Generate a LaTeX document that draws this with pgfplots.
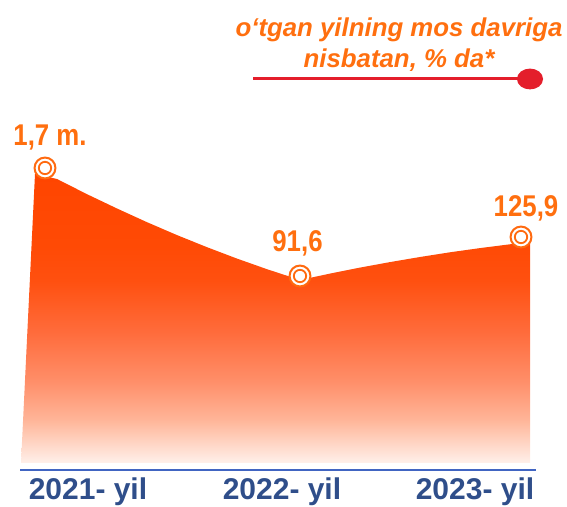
\documentclass[border=0pt]{standalone}
\usepackage{fontspec}
\setmainfont{Liberation Sans}
\newfontfamily\valfont[FakeStretch=0.86]{Liberation Sans}
\usepackage{pgfplots}
\pgfplotsset{compat=1.18}
\definecolor{labc}{HTML}{FF6F0F}
\definecolor{ringc}{HTML}{FF6A10}
\definecolor{legred}{HTML}{E41E2B}
\definecolor{axblue}{HTML}{4165C2}
\definecolor{yearc}{HTML}{2F4E8A}
\definecolor{g0}{HTML}{FFF0EA}
\definecolor{g1}{HTML}{FFB598}
\definecolor{g2}{HTML}{FF8F6A}
\definecolor{g3}{HTML}{FF6C3C}
\definecolor{g4}{HTML}{FF5010}
\definecolor{g5}{HTML}{FF4A05}
\definecolor{g6}{HTML}{FF4500}
\pgfdeclareverticalshading{areashade}{100bp}{color(0bp)=(g0); color(25bp)=(g0); color(32.5bp)=(g1); color(39bp)=(g2); color(47.5bp)=(g3); color(56.5bp)=(g4); color(62.5bp)=(g5); color(75bp)=(g6); color(100bp)=(g6)}
\begin{document}
\begin{tikzpicture}
\begin{axis}[
  x=1bp, y=1bp,
  xmin=20, xmax=536, ymin=-7, ymax=463,
  enlargelimits=false, clip=false,
  axis x line*=bottom, axis y line=none,
  x axis line style={draw=axblue, line width=2.5bp},
  xtick={88,282,475},
  xticklabels={2021- yil,2022- yil,2023- yil},
  major tick length=0pt,
  xticklabel style={anchor=base, yshift=-30bp, inner sep=0pt, text=yearc,
    font=\fontsize{30bp}{34bp}\selectfont\bfseries},
]
% area
\addplot[draw=none, shade, shading=areashade] coordinates {
  (21,0) (35,289) (57,284) (87,268.8) (117,254.5) (147,240.8) (177,227.9)
  (207,215.8) (237,204.4) (267,193.8) (300,183)
  (330,189.4) (360,195.4) (390,200.9) (420,206.0) (450,210.7) (480,214.9)
  (510,218.7) (530,221) (530,0)
};
% markers
\addplot[only marks, mark=*, mark size=10.5pt,
  mark options={fill=white, draw=ringc, line width=2bp}]
  coordinates {(45,295) (300,187) (521,226)};
\addplot[only marks, mark=o, mark size=6.2pt,
  mark options={draw=ringc, line width=1.8bp}]
  coordinates {(45,295) (300,187) (521,226)};
% value labels
\addplot[draw=none, mark=none, nodes near coords, point meta=explicit symbolic,
  nodes near coords style={anchor=base, inner sep=0pt, text=labc,
    font=\valfont\fontsize{30bp}{34bp}\selectfont\bfseries}]
  coordinates {(50,317) [1,7 m.] (297.5,211) [91,6] (526,246) [125,9]};
% legend line with dot
\addplot[legred, line width=3bp, mark=*, mark indices={2},
  mark options={xscale=1.1, yscale=0.85, fill=legred, draw=legred}, mark size=10.5pt]
  coordinates {(253,384) (530,384)};
\node[anchor=base, inner sep=0pt, text=labc, font=\fontsize{25.8bp}{30bp}\selectfont\bfseries\itshape]
  at (axis cs:399,426) {o‘tgan yilning mos davriga};
\node[anchor=base, inner sep=0pt, text=labc, font=\fontsize{25.8bp}{30bp}\selectfont\bfseries\itshape]
  at (axis cs:399,395) {nisbatan, \% da*};
\coordinate (BL) at (axis cs:0,-44);
\coordinate (TR) at (axis cs:567,463);
\end{axis}
\pgfresetboundingbox
\path (BL) rectangle (TR);
\end{tikzpicture}
\end{document}
